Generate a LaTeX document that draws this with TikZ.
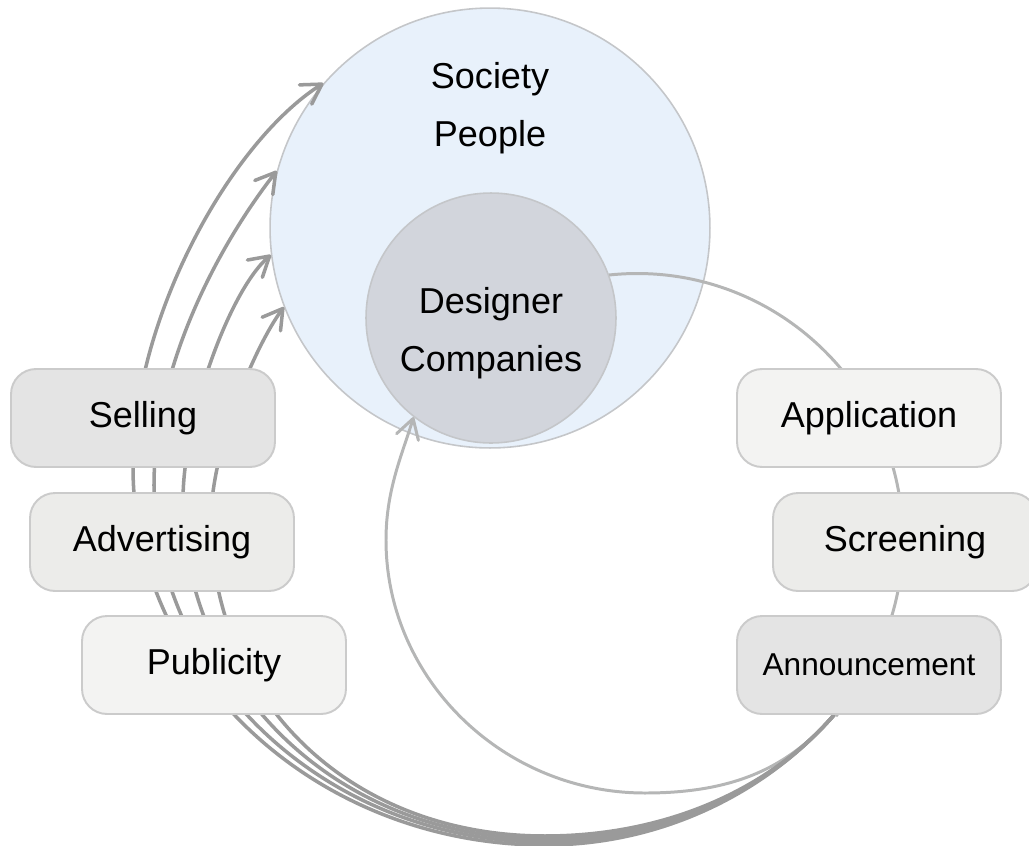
\documentclass[tikz,border=0pt]{standalone}
\usepackage{fontspec}
\setmainfont{Liberation Sans}
\usepackage{tikz}
\usetikzlibrary{arrows.meta}
\definecolor{societyfill}{HTML}{E8F1FB}
\definecolor{designerfill}{HTML}{D2D5DC}
\definecolor{ringline}{HTML}{C4C6C9}
\definecolor{boxline}{HTML}{CBCBCB}
\definecolor{boxdark}{HTML}{E4E4E4}
\definecolor{boxmid}{HTML}{ECECEA}
\definecolor{boxlight}{HTML}{F3F3F2}
\definecolor{feedgray}{HTML}{9A9A9A}
\definecolor{loopgray}{HTML}{B5B6B6}
\pgfdeclarelayer{rings}
\pgfdeclarelayer{links}
\pgfsetlayers{rings,links,main}

\begin{document}
\begin{tikzpicture}[x=0.02cm,y=-0.02cm,
  ring/.style={circle,draw=ringline,line width=0.9pt,inner sep=0pt},
  stage/.style={rectangle,rounded corners=0.5cm,draw=boxline,line width=1.1pt,
    minimum width=5.28cm,minimum height=1.96cm,font=\fontsize{20.5}{24}\selectfont},
  ringtext/.style={align=center,font=\fontsize{20.5}{33}\selectfont},
  feed/.style={draw=feedgray,line width=2pt,
    -{Straight Barb[length=11pt,width=13pt,round]}},
  loopline/.style={draw=loopgray,line width=1.7pt}]
\useasboundingbox (0,0) rectangle (1029,846);

% the two circles
\begin{pgfonlayer}{rings}
\node[ring,fill=societyfill,minimum size=8.8cm] (society) at (490,228) {};
\node[ring,fill=designerfill,minimum size=5cm] (designer) at (491,318) {};
\end{pgfonlayer}
\node[ringtext] (societytext) at (490,108) {Society\\People};
\node[ringtext] (designertext) at (491,333) {Designer\\Companies};

% steps on the left and on the right
\node[stage,fill=boxdark] (selling) at (143,418) {Selling};
\node[stage,fill=boxmid] (advertising) at (162,542) {Advertising};
\node[stage,fill=boxlight] (publicity) at (214,665) {Publicity};
\node[stage,fill=boxlight] (application) at (869,418) {Application};
\node[stage,fill=boxmid] (screening) at (905,542) {Screening};
\node[stage,fill=boxdark,font=\fontsize{18}{22}\selectfont] (announcement) at (869,665) {Announcement};

\begin{pgfonlayer}{links}
% loop through the contest
\draw[loopline] (designer.20) arc[start angle=264,end angle=401.6,radius=266];
\draw[loopline,-{Straight Barb[length=11pt,width=13pt,round]}] (announcement.-125)
  .. controls (789,767) and (735,793) .. (645,793)
  .. controls (503,793) and (386,679) .. (386,540)
  .. controls (386,490) and (402,455) .. (designer.232);
% out to society
\draw[feed] (announcement.-125) .. controls (769,790) and (665,845) .. (545,845)
  .. controls (318,845) and (133,675) .. (133,467)
  .. controls (133,317) and (231,142) .. (society.139);
\draw[feed] (announcement.-125) .. controls (769,790) and (665,842) .. (545,842)
  .. controls (330,842) and (154,680) .. (154,485)
  .. controls (154,370) and (215,250) .. (society.165);
\draw[feed] (announcement.-125) .. controls (769,790) and (665,839) .. (545,839)
  .. controls (340,839) and (183,690) .. (183,500)
  .. controls (183,420) and (229,291) .. (society.187);
\draw[feed] (announcement.-125) .. controls (769,790) and (665,836) .. (545,836)
  .. controls (350,836) and (211,700) .. (211,520)
  .. controls (211,450) and (255,346) .. (society.201);
\end{pgfonlayer}
\end{tikzpicture}
\end{document}
